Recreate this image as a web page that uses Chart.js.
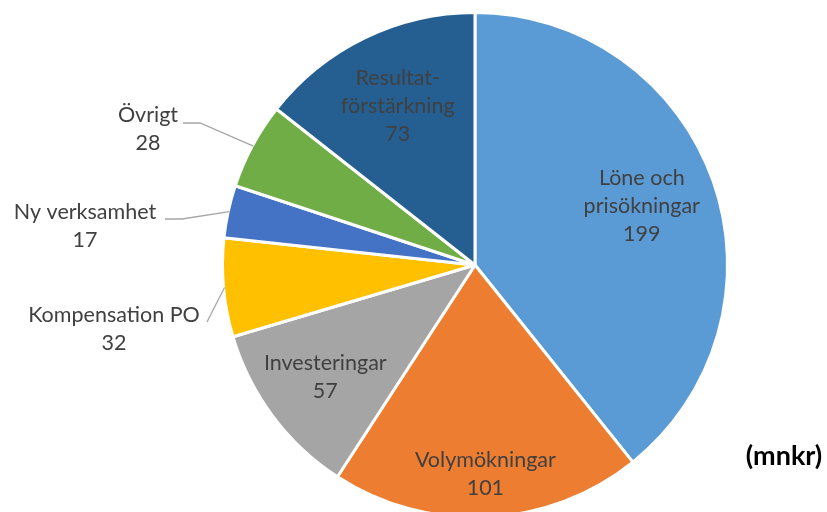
<!DOCTYPE html>
<html>
<head>
<meta charset="utf-8">
<script src="https://cdn.jsdelivr.net/npm/chart.js@4"></script>
<style>
  html, body { margin: 0; padding: 0; background: #fff; overflow: hidden; }
  #wrap { width: 827px; height: 530px; position: relative; }
</style>
</head>
<body>
<div id="wrap"><canvas id="myChart" width="827" height="530"></canvas></div>
<script>
const kategorier = [
  ["Löne och", "prisökningar"],
  ["Volymökningar"],
  ["Investeringar"],
  ["Kompensation PO"],
  ["Ny verksamhet"],
  ["Övrigt"],
  ["Resultat-", "förstärkning"]
];
const belopp = [199, 101, 57, 32, 17, 28, 73];
const farger = ["#5B9BD5", "#ED7D31", "#A5A5A5", "#FFC000", "#4472C4", "#70AD47", "#255E91"];
const enhet = "(mnkr)";

// var etiketten hamnar: inne i tårtbiten (andel av radien) eller utanför med linje
const etikettStil = [
  { inne: 0.70 },
  { inne: 0.83 },
  { inne: 0.74 },
  { ute: [114, 315], knack: [207, 322] },
  { ute: [85, 212], knack: [182, 219], start: [165, 219] },
  { ute: [148, 115], knack: [200, 123], start: [183, 123] },
  { inne: 0.70 }
];

const textFarg = "#404040";
const font = "21.5px Lato";
const radHojd = 28;

const etiketter = {
  id: "etiketter",
  afterDraw(chart) {
    const ctx = chart.ctx;
    const meta = chart.getDatasetMeta(0);
    ctx.save();
    ctx.font = font;
    ctx.fillStyle = textFarg;
    ctx.textAlign = "center";
    ctx.textBaseline = "middle";
    meta.data.forEach((arc, i) => {
      const p = arc.getProps(["x", "y", "startAngle", "endAngle", "outerRadius"], true);
      const mitt = (p.startAngle + p.endAngle) / 2;
      const rader = kategorier[i].concat([String(belopp[i])]);
      const stil = etikettStil[i];
      let cx, cy;
      if (stil.inne) {
        cx = p.x + Math.cos(mitt) * p.outerRadius * stil.inne;
        cy = p.y + Math.sin(mitt) * p.outerRadius * stil.inne;
      } else {
        cx = stil.ute[0];
        cy = stil.ute[1] + radHojd / 2;
        const ex = p.x + Math.cos(mitt) * (p.outerRadius - 1);
        const ey = p.y + Math.sin(mitt) * (p.outerRadius - 1);
        ctx.strokeStyle = "#A6A6A6";
        ctx.lineWidth = 1.3;
        ctx.beginPath();
        if (stil.start) {
          ctx.moveTo(stil.start[0], stil.start[1]);
          ctx.lineTo(stil.knack[0], stil.knack[1]);
        } else {
          ctx.moveTo(stil.knack[0], stil.knack[1]);
        }
        ctx.lineTo(ex, ey);
        ctx.stroke();
      }
      const topp = cy - (rader.length - 1) * radHojd / 2;
      rader.forEach((t, j) => ctx.fillText(t, cx, topp + j * radHojd));
    });
    ctx.font = "bold 27px Lato";
    ctx.fillStyle = "#000";
    ctx.fillText(enhet, 784, 456);
    ctx.restore();
  }
};

const ctx = document.getElementById("myChart").getContext("2d");
new Chart(ctx, {
  type: "pie",
  data: {
    labels: kategorier.map(k => k.join(" ")),
    datasets: [{
      data: belopp,
      backgroundColor: farger,
      borderColor: "#ffffff",
      borderWidth: 3
    }]
  },
  options: {
    responsive: false,
    animation: false,
    layout: { padding: { left: 221, right: 98, top: 11, bottom: 11 } },
    plugins: {
      legend: { display: false },
      tooltip: { enabled: false }
    }
  },
  plugins: [etiketter]
});
</script>
</body>
</html>
